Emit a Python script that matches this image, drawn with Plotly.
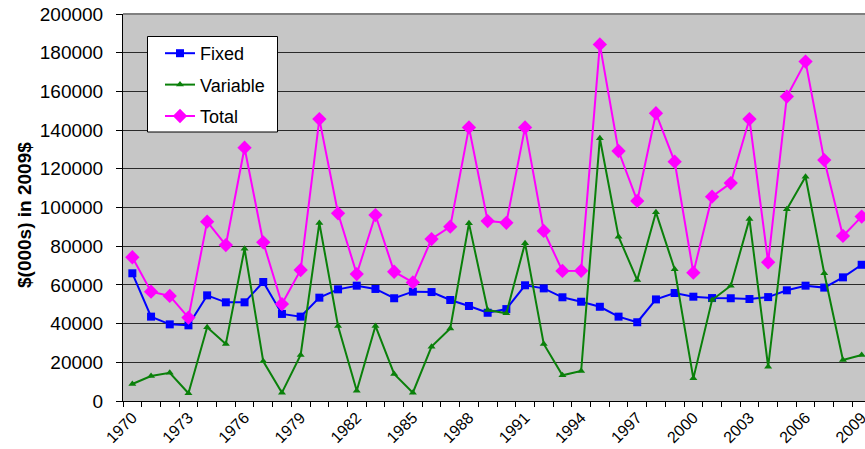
import plotly.graph_objects as go

# Annual costs, thousands of 2009 dollars
years = list(range(1970, 2010))
fixed = [66000, 43600, 39600, 39100, 54600, 51000, 51000, 61500, 45000, 43600,
         53400, 57700, 59600, 57900, 53100, 56500, 56300, 52200, 49100, 45600,
         47500, 59800, 58200, 53600, 51300, 48700, 43600, 40700, 52500, 55800,
         53900, 53200, 53100, 52700, 53700, 57200, 59600, 58600, 63900, 70400]
variable = [8800, 12900, 14600, 4000, 38100, 29500, 78700, 20500, 4300, 23800,
            92000, 38800, 5300, 38800, 14000, 4300, 28100, 37500, 91800, 47000,
            45300, 81500, 29500, 13300, 15500, 135800, 84900, 62500, 97500, 68100,
            11700, 52200, 59600, 94000, 17700, 99100, 115900, 66000, 21200, 23800]
total = [74300, 56500, 54300, 43100, 92700, 80600, 130900, 82000, 50100, 67700,
         145700, 97000, 65600, 96100, 66800, 61300, 83700, 90100, 141400, 93000,
         92100, 141400, 87900, 67200, 67300, 184300, 129200, 103400, 148700, 123700,
         66300, 105600, 112600, 145700, 71700, 157300, 175400, 124500, 85300, 95300]
label_years = list(range(1970, 2010, 3))
y_ticks = list(range(0, 200001, 20000))

FONT = "Liberation Sans, Arial, sans-serif"

# plot-area geometry in pixels (used for legend box placement)
W, H = 865, 449
ML, MT, MB = 123, 14, 48
PW, PH = W - ML, H - MT - MB


def px_x(x):
    return (x - ML) / PW


def px_y(y):
    return (H - MB - y) / PH


fig = go.Figure()
fig.add_trace(go.Scatter(
    x=years, y=fixed, name="Fixed", mode="lines+markers", legendgroup="f",
    line=dict(color="#0000FF", width=2),
    marker=dict(symbol="square", size=8, color="#0000FF"),
))
fig.add_trace(go.Scatter(
    x=years, y=variable, name="Variable", mode="lines+markers", legendgroup="v",
    line=dict(color="#0A800A", width=2),
    marker=dict(symbol="triangle-up", size=7, color="#0A800A"),
))
fig.add_trace(go.Scatter(
    x=years, y=total, name="Total", mode="lines+markers", legendgroup="t",
    line=dict(color="#FF00FF", width=2),
    marker=dict(symbol="diamond", size=11, color="#FF00FF"),
))

fig.update_layout(
    width=W, height=H,
    margin=dict(l=ML, r=0, t=MT, b=MB, autoexpand=False),
    paper_bgcolor="white",
    plot_bgcolor="#C6C6C6",
    font=dict(family=FONT, color="black"),
    showlegend=True,
    legend=dict(
        x=px_x(160), y=px_y(35), xanchor="left", yanchor="top",
        bgcolor="rgba(0,0,0,0)", borderwidth=0,
        font=dict(size=18, family=FONT, color="black"),
        traceorder="grouped", tracegroupgap=5,
    ),
    shapes=[
        # legend frame
        dict(type="rect", xref="paper", yref="paper",
             x0=px_x(147.5), x1=px_x(277.5), y0=px_y(132), y1=px_y(36.5),
             fillcolor="white", line=dict(color="black", width=1), layer="above"),
        # plot-area top border
        dict(type="line", xref="paper", yref="paper",
             x0=0, x1=1, y0=1, y1=1, line=dict(color="#808080", width=2)),
    ],
    annotations=[
        dict(text="<b>$(000s) in 2009$</b>", xref="paper", yref="paper",
             x=px_x(24), y=px_y(215), xanchor="center", yanchor="middle",
             textangle=-90, showarrow=False,
             font=dict(size=19, family=FONT, color="black")),
    ],
)

fig.update_xaxes(
    range=[1969.5, 1969.5 + PW / 18.7],
    tickmode="array", tickvals=label_years, ticktext=[str(y) for y in label_years],
    tickangle=-45, ticks="", tickfont=dict(size=16, family=FONT),
    ticklabeloverflow="allow",
    showgrid=False, zeroline=False,
    showline=True, linecolor="black", linewidth=1,
    minor=dict(tickmode="linear", tick0=1969.5, dtick=1, ticks="outside",
               ticklen=5, tickcolor="black", tickwidth=1, showgrid=False),
)
fig.update_yaxes(
    range=[0, 200000], tickmode="array", tickvals=y_ticks,
    tickformat="d", tickfont=dict(size=19, family=FONT),
    ticks="outside", ticklen=6, tickcolor="black", ticklabelstandoff=9,
    showgrid=True, gridcolor="#2A2A2A", gridwidth=1, zeroline=False,
    showline=True, linecolor="black", linewidth=1,
)

fig.write_html("out.html")
